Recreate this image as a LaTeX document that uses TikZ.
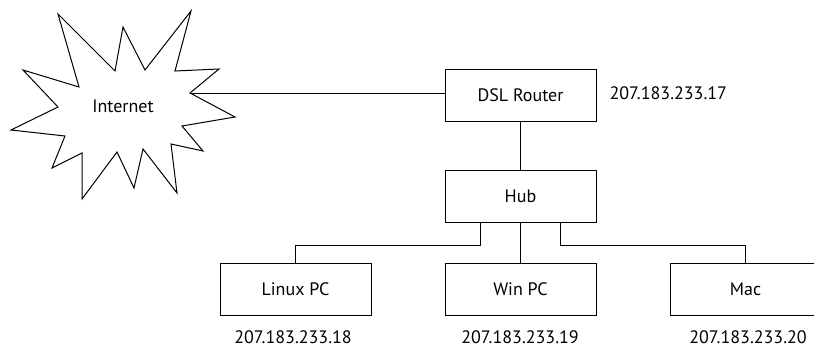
\documentclass[tikz,border=0pt]{standalone}
\usepackage{fontspec}
\setmainfont{PT Sans}
\begin{document}
\begin{tikzpicture}[x=1pt,y=-1pt,line width=1pt,
  box/.style={draw,rectangle,minimum width=151pt,minimum height=52pt,inner sep=0pt,font=\fontsize{18}{21}\selectfont},
  lbl/.style={inner sep=0pt,font=\fontsize{18}{21}\selectfont}]
\useasboundingbox (0,0) rectangle (814,348);
\clip (0,0) rectangle (814,348);
% Internet star
\draw[line join=miter] (58,14) -- (115,71) -- (123,27) -- (145,70) -- (191,11) -- (175,71) -- (219,69) -- (190,93)
  -- (235,117) -- (182,126) -- (203,151) -- (171,144) -- (177,193) -- (143,149) -- (134,188) -- (117,152)
  -- (82,199) -- (82,153) -- (52,168) -- (65,136) -- (11,130) -- (58,107) -- (23,70) -- (79,87) -- cycle;
\coordinate (starR) at (190,93);
\node[lbl] (internet) at (123,106) {Internet};
% boxes
\node[box] (router) at (520.5,95) {DSL Router};
\node[box] (hub) at (520.5,196) {Hub};
\node[box] (linux) at (295.5,289) {Linux PC};
\node[box] (win) at (520.5,289) {Win PC};
\node[box] (mac) at (745.5,289) {Mac};
% labels
\node[lbl,anchor=west] (ip17) at (609,93) {207.183.233.17};
\node[lbl] (ip18) at (293,337) {207.183.233.18};
\node[lbl] (ip19) at (520,337) {207.183.233.19};
\node[lbl] (ip20) at (748,337) {207.183.233.20};
% connectors
\draw (starR) -- (starR -| router.west);
\draw (router.south) -- (hub.north);
\draw (hub.south) -- (win.north);
\draw ([xshift=36pt]hub.south west) -- ++(0,23) -| (linux.north);
\draw ([xshift=-36pt]hub.south east) -- ++(0,23) -| (mac.north);
\end{tikzpicture}
\end{document}
